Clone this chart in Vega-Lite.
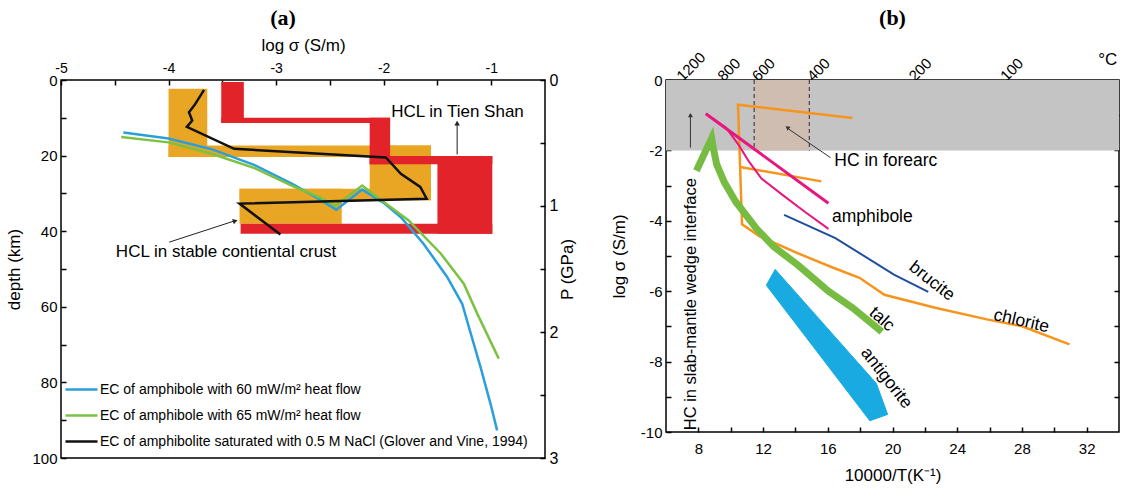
{
  "$schema": "https://vega.github.io/schema/vega-lite/v6.json",
  "background": "white",
  "padding": {"left": 5, "top": 6, "right": 5, "bottom": 5},
  "bounds": "flush",
  "spacing": 121,
  "config": {
    "font": "Liberation Sans",
    "view": {"stroke": "black", "strokeWidth": 1.5},
    "axis": {"labelFont": "Liberation Sans", "titleFont": "Liberation Sans", "labelColor": "black", "titleColor": "black", "tickColor": "black", "domainColor": "black", "domainWidth": 1.5, "tickWidth": 1.5, "labelFontSize": 14, "titleFontSize": 17, "titleFontWeight": "normal", "grid": false, "labelOverlap": false, "labelFlush": false, "tickSize": -5, "labelPadding": 9, "domain": false},
    "title": {"font": "Liberation Serif", "fontWeight": "bold", "fontSize": 22, "color": "black"}
  },
  "resolve": {"scale": {"color": "independent"}, "legend": {"color": "independent"}},
  "hconcat": [
    {
      "width": 484,
      "height": 378,
      "title": {"text": "(a)", "offset": 6, "dx": -20},
      "resolve": {"axis": {"x": "independent", "y": "independent"}},
      "layer": [
        {
          "data": {"values": [
            {"x1": -4.0, "x2": -3.64, "d1": 2.3, "d2": 20.4},
            {"x1": -4.0, "x2": -1.56, "d1": 17.3, "d2": 20.4},
            {"x1": -2.13, "x2": -1.56, "d1": 17.3, "d2": 31.8},
            {"x1": -3.34, "x2": -1.56, "d1": 28.8, "d2": 31.8},
            {"x1": -3.34, "x2": -2.39, "d1": 28.8, "d2": 38.0}
          ]},
          "mark": {"type": "rect", "color": "#E9A524"},
          "encoding": {
            "x": {"field": "x1", "type": "quantitative", "scale": {"domain": [-5, -0.5], "nice": false, "zero": false},
              "axis": {"orient": "top", "title": "log σ (S/m)", "values": [-5, -4.5, -4, -3.5, -3, -2.5, -2, -1.5, -1], "labelExpr": "datum.value % 1 == 0 ? '' + datum.value : ''", "titlePadding": 7, "labelPadding": 10, "labelFontSize": 14}},
            "x2": {"field": "x2"},
            "y": {"field": "d1", "type": "quantitative", "scale": {"domain": [0, 100], "reverse": true, "nice": false, "zero": false},
              "axis": {"orient": "left", "title": "depth (km)", "values": [0, 10, 20, 30, 40, 50, 60, 70, 80, 90, 100], "labelExpr": "datum.value % 20 == 0 ? '' + datum.value : ''", "labelFontSize": 15, "titlePadding": 8}},
            "y2": {"field": "d2"}
          }
        },
        {
          "data": {"values": [
            {"x1": -3.51, "x2": -3.30, "d1": 0.5, "d2": 11.4},
            {"x1": -3.51, "x2": -1.94, "d1": 10.0, "d2": 11.4},
            {"x1": -2.13, "x2": -1.94, "d1": 10.0, "d2": 22.3},
            {"x1": -2.13, "x2": -0.99, "d1": 20.1, "d2": 22.3},
            {"x1": -1.50, "x2": -0.99, "d1": 20.1, "d2": 40.7},
            {"x1": -3.33, "x2": -0.99, "d1": 38.0, "d2": 40.7}
          ]},
          "mark": {"type": "rect", "color": "#E2232A"},
          "encoding": {
            "x": {"field": "x1", "type": "quantitative", "axis": null},
            "x2": {"field": "x2"},
            "y": {"field": "d1", "type": "quantitative", "axis": null},
            "y2": {"field": "d2"}
          }
        },
        {
          "data": {"values": [
            {"s": "b", "i": 0, "v": -4.42, "d": 13.9},
            {"s": "b", "i": 1, "v": -4.0, "d": 15.5},
            {"s": "b", "i": 2, "v": -3.6, "d": 18.3},
            {"s": "b", "i": 3, "v": -3.2, "d": 22.5},
            {"s": "b", "i": 4, "v": -2.85, "d": 27.5},
            {"s": "b", "i": 5, "v": -2.6, "d": 31.5},
            {"s": "b", "i": 6, "v": -2.44, "d": 34.3},
            {"s": "b", "i": 7, "v": -2.2, "d": 29.0},
            {"s": "b", "i": 8, "v": -2.0, "d": 32.5},
            {"s": "b", "i": 9, "v": -1.84, "d": 36.3},
            {"s": "b", "i": 10, "v": -1.63, "d": 43.3},
            {"s": "b", "i": 11, "v": -1.41, "d": 52.1},
            {"s": "b", "i": 12, "v": -1.27, "d": 59.2},
            {"s": "b", "i": 13, "v": -1.19, "d": 67.1},
            {"s": "b", "i": 14, "v": -1.10, "d": 75.9},
            {"s": "b", "i": 15, "v": -1.007, "d": 85.6},
            {"s": "b", "i": 16, "v": -0.945, "d": 92.7},
            {"s": "g", "i": 0, "v": -4.44, "d": 15.1},
            {"s": "g", "i": 1, "v": -4.0, "d": 16.5},
            {"s": "g", "i": 2, "v": -3.6, "d": 19.5},
            {"s": "g", "i": 3, "v": -3.2, "d": 23.3},
            {"s": "g", "i": 4, "v": -2.85, "d": 28.0},
            {"s": "g", "i": 5, "v": -2.6, "d": 31.0},
            {"s": "g", "i": 6, "v": -2.45, "d": 33.3},
            {"s": "g", "i": 7, "v": -2.2, "d": 27.9},
            {"s": "g", "i": 8, "v": -2.06, "d": 31.0},
            {"s": "g", "i": 9, "v": -1.77, "d": 37.1},
            {"s": "g", "i": 10, "v": -1.47, "d": 45.9},
            {"s": "g", "i": 11, "v": -1.255, "d": 53.9},
            {"s": "g", "i": 12, "v": -1.13, "d": 61.8},
            {"s": "g", "i": 13, "v": -0.93, "d": 73.7},
            {"s": "k", "i": 0, "v": -3.67, "d": 2.6},
            {"s": "k", "i": 1, "v": -3.76, "d": 6.7},
            {"s": "k", "i": 2, "v": -3.81, "d": 8.5},
            {"s": "k", "i": 3, "v": -3.78, "d": 10.7},
            {"s": "k", "i": 4, "v": -3.83, "d": 12.4},
            {"s": "k", "i": 5, "v": -3.39, "d": 18.2},
            {"s": "k", "i": 6, "v": -1.98, "d": 20.5},
            {"s": "k", "i": 7, "v": -1.84, "d": 24.8},
            {"s": "k", "i": 8, "v": -1.66, "d": 28.3},
            {"s": "k", "i": 9, "v": -1.60, "d": 31.4},
            {"s": "k", "i": 10, "v": -3.34, "d": 32.7},
            {"s": "k", "i": 11, "v": -2.96, "d": 40.9}
          ]},
          "mark": {"type": "line", "strokeWidth": 2.5},
          "encoding": {
            "x": {"field": "v", "type": "quantitative", "axis": null},
            "y": {"field": "d", "type": "quantitative", "axis": null},
            "order": {"field": "i", "type": "quantitative"},
            "color": {"field": "s", "type": "nominal",
              "scale": {"domain": ["b", "g", "k"], "range": ["#2A9FD9", "#7CC242", "#111111"]},
              "legend": {"orient": "bottom-left", "title": null, "symbolType": "M-1.6,0L1.6,0", "symbolSize": 400, "symbolStrokeWidth": 2.5, "labelFontSize": 14, "labelLimit": 600, "rowPadding": 7, "offset": 9, "padding": 0, "labelFont": "Liberation Sans", "labelColor": "black", "labelOffset": 7,
                "labelExpr": "datum.label == 'b' ? 'EC of amphibole with 60  mW/m² heat flow' : datum.label == 'g' ? 'EC of amphibole with 65 mW/m² heat flow' : 'EC of amphibolite saturated with 0.5 M NaCl (Glover and Vine, 1994)'"}}
          }
        },
        {
          "data": {"values": [
            {"t": "HCL in Tien Shan", "v": -1.93, "d": 8.5},
            {"t": "HCL in stable contiental crust", "v": -4.49, "d": 45.5}
          ]},
          "mark": {"type": "text", "align": "left", "baseline": "middle", "fontSize": 17, "font": "Liberation Sans", "color": "black"},
          "encoding": {
            "x": {"field": "v", "type": "quantitative", "axis": null},
            "y": {"field": "d", "type": "quantitative", "axis": null},
            "text": {"field": "t"}
          }
        },
        {
          "data": {"values": [
            {"v1": -1.317, "d1": 19.7, "v2": -1.317, "d2": 11.6},
            {"v1": -3.994, "d1": 42.9, "v2": -3.40, "d2": 37.4}
          ]},
          "mark": {"type": "rule", "color": "#222", "strokeWidth": 1},
          "encoding": {
            "x": {"field": "v1", "type": "quantitative", "axis": null},
            "y": {"field": "d1", "type": "quantitative", "axis": null},
            "x2": {"field": "v2"},
            "y2": {"field": "d2"}
          }
        },
        {
          "data": {"values": [{"v": -1.317, "d": 11.4}]},
          "mark": {"type": "point", "shape": "triangle-up", "filled": true, "size": 30, "color": "#222", "opacity": 1},
          "encoding": {
            "x": {"field": "v", "type": "quantitative", "axis": null},
            "y": {"field": "d", "type": "quantitative",
              "axis": {"orient": "right", "title": "P (GPa)", "titleAngle": 270, "titleBaseline": "top", "values": [0, 16.6667, 33.3333, 50, 66.6667, 83.3333, 100], "labelExpr": "abs(datum.value / 33.3333 - round(datum.value / 33.3333)) < 0.01 ? '' + round(datum.value / 33.3333) : ''", "labelFontSize": 16, "titleFontSize": 17, "titlePadding": 2}}
          }
        },
        {
          "data": {"values": [{"v": -3.38, "d": 37.3}]},
          "mark": {"type": "point", "shape": "triangle-up", "filled": true, "size": 30, "color": "#222", "opacity": 1, "angle": 72},
          "encoding": {
            "x": {"field": "v", "type": "quantitative", "axis": null},
            "y": {"field": "d", "type": "quantitative", "axis": null}
          }
        }
      ]
    },
    {
      "width": 453,
      "height": 352,
      "title": {"text": "(b)", "offset": 19},
      "resolve": {"axis": {"x": "independent", "y": "independent"}},
      "layer": [
        {
          "data": {"values": [{"x1": 6, "x2": 34, "y1": 0, "y2": -2}]},
          "mark": {"type": "rect", "color": "#C4C4C4"},
          "encoding": {
            "x": {"field": "x1", "type": "quantitative", "scale": {"domain": [6, 34], "nice": false, "zero": false},
              "axis": {"orient": "bottom", "title": "10000/T(K⁻¹)", "values": [8, 10, 12, 14, 16, 18, 20, 22, 24, 26, 28, 30, 32], "labelExpr": "datum.value % 4 == 0 ? '' + datum.value : ''", "labelPadding": 14, "titlePadding": 11, "labelFontSize": 15}},
            "x2": {"field": "x2"},
            "y": {"field": "y1", "type": "quantitative", "scale": {"domain": [-10, 0], "nice": false, "zero": false},
              "axis": {"orient": "left", "title": "log σ (S/m)", "values": [-10, -9, -8, -7, -6, -5, -4, -3, -2, -1, 0], "labelExpr": "datum.value % 2 == 0 ? '' + datum.value : ''", "titlePadding": 12, "labelFontSize": 15}},
            "y2": {"field": "y2"}
          }
        },
        {
          "data": {"values": [{"x1": 11.45, "x2": 14.86, "y1": 0, "y2": -2}]},
          "mark": {"type": "rect", "color": "#CFBDB2"},
          "encoding": {
            "x": {"field": "x1", "type": "quantitative",
              "axis": {"orient": "top", "title": null, "values": [6.3567, 6.78817, 7.28253, 7.85453, 8.52406, 9.31836, 10.27591, 11.45279, 12.9341, 14.85553, 17.44744, 21.13494, 26.79887],
                "labelExpr": "indexof([1200, 800, 600, 400, 200, 100], round(10000 / datum.value - 273.15)) >= 0 ? '' + round(10000 / datum.value - 273.15) : ''",
                "labelAngle": -45, "labelAlign": "left", "labelBaseline": "middle", "labelPadding": 7, "labelFontSize": 15}},
            "x2": {"field": "x2"},
            "y": {"field": "y1", "type": "quantitative",
              "axis": {"orient": "right", "title": null, "values": [-9, -8, -7, -6, -5, -4, -3, -2, -1], "labels": false}},
            "y2": {"field": "y2"}
          }
        },
        {
          "data": {"values": [{"x": 11.45, "y1": 0, "y2": -2}, {"x": 14.86, "y1": 0, "y2": -2}]},
          "mark": {"type": "rule", "color": "#444", "strokeDash": [4, 3], "strokeWidth": 1.2},
          "encoding": {
            "x": {"field": "x", "type": "quantitative", "axis": null},
            "y": {"field": "y1", "type": "quantitative", "axis": null},
            "y2": {"field": "y2"}
          }
        },
        {
          "data": {"values": [
            {"s": "A", "i": 0, "x": 17.53, "y": -1.08},
            {"s": "A", "i": 1, "x": 10.45, "y": -0.70},
            {"s": "A", "i": 2, "x": 10.70, "y": -4.10},
            {"s": "A", "i": 3, "x": 11.79, "y": -4.44},
            {"s": "A", "i": 4, "x": 14.13, "y": -4.92},
            {"s": "A", "i": 5, "x": 16.26, "y": -5.32},
            {"s": "A", "i": 6, "x": 17.96, "y": -5.62},
            {"s": "A", "i": 7, "x": 19.5, "y": -6.10},
            {"s": "A", "i": 8, "x": 22.64, "y": -6.47},
            {"s": "A", "i": 9, "x": 25.83, "y": -6.80},
            {"s": "A", "i": 10, "x": 27.96, "y": -6.99},
            {"s": "A", "i": 11, "x": 30.94, "y": -7.51},
            {"s": "B", "i": 0, "x": 10.58, "y": -2.47},
            {"s": "B", "i": 1, "x": 15.6, "y": -2.88}
          ]},
          "mark": {"type": "line", "color": "#F7941D", "strokeWidth": 2.5},
          "encoding": {
            "x": {"field": "x", "type": "quantitative", "axis": null},
            "y": {"field": "y", "type": "quantitative", "axis": null},
            "detail": {"field": "s"},
            "order": {"field": "i", "type": "quantitative"}
          }
        },
        {
          "data": {"values": [
            {"i": 0, "x": 13.3, "y": -3.83},
            {"i": 1, "x": 16.47, "y": -4.49},
            {"i": 2, "x": 20.09, "y": -5.53},
            {"i": 3, "x": 22.21, "y": -6.02}
          ]},
          "mark": {"type": "line", "color": "#1F4F9C", "strokeWidth": 2},
          "encoding": {
            "x": {"field": "x", "type": "quantitative", "axis": null},
            "y": {"field": "y", "type": "quantitative", "axis": null},
            "order": {"field": "i", "type": "quantitative"}
          }
        },
        {
          "data": {"values": [
            {"i": 0, "x": 8.46, "y": -0.96},
            {"i": 1, "x": 9.7, "y": -1.35},
            {"i": 2, "x": 10.5, "y": -1.85},
            {"i": 3, "x": 11.1, "y": -2.30},
            {"i": 4, "x": 11.9, "y": -2.80},
            {"i": 5, "x": 13.3, "y": -3.30},
            {"i": 6, "x": 14.6, "y": -3.75},
            {"i": 7, "x": 16.04, "y": -4.23}
          ]},
          "mark": {"type": "line", "color": "#E6177E", "strokeWidth": 2},
          "encoding": {
            "x": {"field": "x", "type": "quantitative", "axis": null},
            "y": {"field": "y", "type": "quantitative", "axis": null},
            "order": {"field": "i", "type": "quantitative"}
          }
        },
        {
          "data": {"values": [
            {"i": 0, "x": 8.46, "y": -0.96},
            {"i": 1, "x": 16.04, "y": -3.50}
          ]},
          "mark": {"type": "line", "color": "#E6177E", "strokeWidth": 3},
          "encoding": {
            "x": {"field": "x", "type": "quantitative", "axis": null},
            "y": {"field": "y", "type": "quantitative", "axis": null},
            "order": {"field": "i", "type": "quantitative"}
          }
        },
        {
          "data": {"values": [
            {"i": 0, "x": 7.88, "y": -2.58},
            {"i": 1, "x": 8.82, "y": -1.65},
            {"i": 2, "x": 8.92, "y": -1.92},
            {"i": 3, "x": 9.13, "y": -2.39},
            {"i": 4, "x": 9.6, "y": -2.9},
            {"i": 5, "x": 10.3, "y": -3.45},
            {"i": 6, "x": 11.57, "y": -4.21},
            {"i": 7, "x": 12.64, "y": -4.73},
            {"i": 8, "x": 14.13, "y": -5.25},
            {"i": 9, "x": 16.04, "y": -6.0},
            {"i": 10, "x": 17.53, "y": -6.47},
            {"i": 11, "x": 19.34, "y": -7.15}
          ]},
          "mark": {"type": "line", "color": "#76BC42", "strokeWidth": 7, "strokeJoin": "miter"},
          "encoding": {
            "x": {"field": "x", "type": "quantitative", "axis": null},
            "y": {"field": "y", "type": "quantitative", "axis": null},
            "order": {"field": "i", "type": "quantitative"}
          }
        },
        {
          "data": {"values": [
            {"i": 0, "x": 12.2, "y": -5.83},
            {"i": 1, "x": 12.75, "y": -5.38},
            {"i": 2, "x": 19.0, "y": -8.62},
            {"i": 3, "x": 19.7, "y": -9.5},
            {"i": 4, "x": 18.6, "y": -9.68}
          ]},
          "mark": {"type": "line", "interpolate": "linear-closed", "color": "#19AAE1", "fill": "#19AAE1", "strokeWidth": 1},
          "encoding": {
            "x": {"field": "x", "type": "quantitative", "axis": null},
            "y": {"field": "y", "type": "quantitative", "axis": null},
            "order": {"field": "i", "type": "quantitative"}
          }
        },
        {
          "data": {"values": [
            {"x1": 16.18, "y1": -2.21, "x2": 13.6, "y2": -1.4},
            {"x1": 7.51, "y1": -1.92, "x2": 7.51, "y2": -1.05}
          ]},
          "mark": {"type": "rule", "color": "#333", "strokeWidth": 1},
          "encoding": {
            "x": {"field": "x1", "type": "quantitative", "axis": null},
            "y": {"field": "y1", "type": "quantitative", "axis": null},
            "x2": {"field": "x2"},
            "y2": {"field": "y2"}
          }
        },
        {
          "data": {"values": [{"x": 13.5, "y": -1.35}]},
          "mark": {"type": "point", "shape": "triangle-up", "filled": true, "size": 25, "color": "#333", "opacity": 1, "angle": 306},
          "encoding": {
            "x": {"field": "x", "type": "quantitative", "axis": null},
            "y": {"field": "y", "type": "quantitative", "axis": null}
          }
        },
        {
          "data": {"values": [{"x": 7.51, "y": -1.0}]},
          "mark": {"type": "point", "shape": "triangle-up", "filled": true, "size": 25, "color": "#333", "opacity": 1},
          "encoding": {
            "x": {"field": "x", "type": "quantitative", "axis": null},
            "y": {"field": "y", "type": "quantitative", "axis": null}
          }
        },
        {
          "data": {"values": [
            {"t": "amphibole", "x": 16.26, "y": -3.88},
            {"t": "HC in forearc", "x": 16.4, "y": -2.3}
          ]},
          "mark": {"type": "text", "align": "left", "baseline": "middle", "fontSize": 17.5, "color": "black"},
          "encoding": {
            "x": {"field": "x", "type": "quantitative", "axis": null},
            "y": {"field": "y", "type": "quantitative", "axis": null},
            "text": {"field": "t"}
          }
        },
        {
          "data": {"values": [{"t": "brucite", "x": 22.43, "y": -5.72}]},
          "mark": {"type": "text", "align": "center", "baseline": "middle", "fontSize": 17.5, "color": "black", "angle": 38},
          "encoding": {"x": {"field": "x", "type": "quantitative", "axis": null}, "y": {"field": "y", "type": "quantitative", "axis": null}, "text": {"field": "t"}}
        },
        {
          "data": {"values": [{"t": "chlorite", "x": 27.96, "y": -6.85}]},
          "mark": {"type": "text", "align": "center", "baseline": "middle", "fontSize": 17.5, "color": "black", "angle": 13},
          "encoding": {"x": {"field": "x", "type": "quantitative", "axis": null}, "y": {"field": "y", "type": "quantitative", "axis": null}, "text": {"field": "t"}}
        },
        {
          "data": {"values": [{"t": "talc", "x": 19.34, "y": -6.80}]},
          "mark": {"type": "text", "align": "center", "baseline": "middle", "fontSize": 17.5, "color": "black", "angle": 42},
          "encoding": {"x": {"field": "x", "type": "quantitative", "axis": null}, "y": {"field": "y", "type": "quantitative", "axis": null}, "text": {"field": "t"}}
        },
        {
          "data": {"values": [{"t": "antigorite", "x": 19.62, "y": -8.47}]},
          "mark": {"type": "text", "align": "center", "baseline": "middle", "fontSize": 17.5, "color": "black", "angle": 52},
          "encoding": {"x": {"field": "x", "type": "quantitative", "axis": null}, "y": {"field": "y", "type": "quantitative", "axis": null}, "text": {"field": "t"}}
        },
        {
          "data": {"values": [{"t": "HC in slab-mantle wedge interface", "x": 7.55, "y": -9.95}]},
          "mark": {"type": "text", "align": "left", "baseline": "middle", "fontSize": 16.5, "color": "black", "angle": 270},
          "encoding": {"x": {"field": "x", "type": "quantitative", "axis": null}, "y": {"field": "y", "type": "quantitative", "axis": null}, "text": {"field": "t"}}
        },
        {
          "data": {"values": [{"t": "°C", "x": 33.3, "y": 0.57}]},
          "mark": {"type": "text", "align": "center", "baseline": "middle", "fontSize": 17, "color": "black"},
          "encoding": {"x": {"field": "x", "type": "quantitative", "axis": null}, "y": {"field": "y", "type": "quantitative", "axis": null}, "text": {"field": "t"}}
        }
      ]
    }
  ]
}
